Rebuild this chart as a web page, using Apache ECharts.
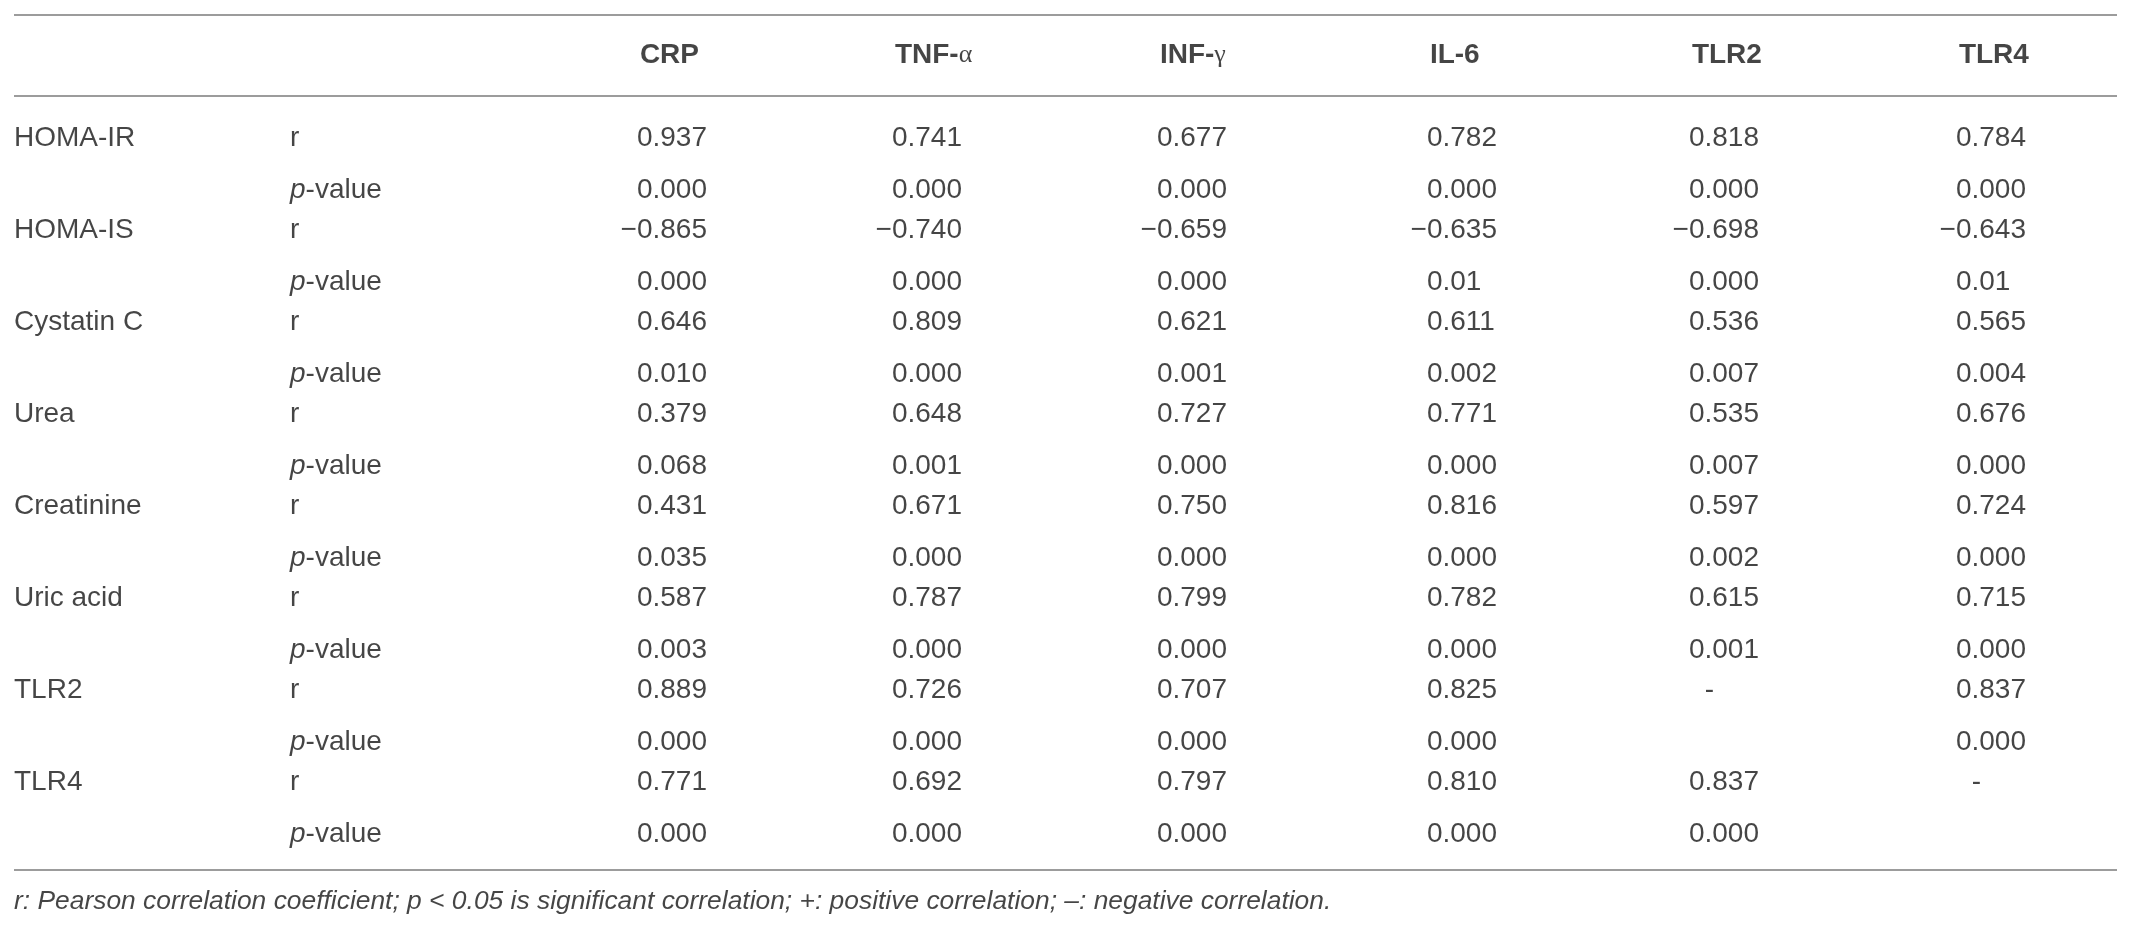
<!DOCTYPE html>
<html>
<head>
<meta charset="utf-8">
<script src="https://cdn.jsdelivr.net/npm/echarts@6/dist/echarts.min.js"></script>
<style>
html,body{margin:0;padding:0;background:#fff;}
#chart{width:2134px;height:928px;}
</style>
</head>
<body>
<div id="chart"></div>
<script>
// ---- data ----
const columns = ['CRP', 'TNF-α', 'INF-γ', 'IL-6', 'TLR2', 'TLR4'];
const variables = ['HOMA-IR', 'HOMA-IS', 'Cystatin C', 'Urea', 'Creatinine', 'Uric acid', 'TLR2', 'TLR4'];
const statLabels = ['r', 'p-value'];

const crpR  = ['0.937', '−0.865', '0.646', '0.379', '0.431', '0.587', '0.889', '0.771'];
const crpP  = ['0.000', '0.000', '0.010', '0.068', '0.035', '0.003', '0.000', '0.000'];
const tnfR  = ['0.741', '−0.740', '0.809', '0.648', '0.671', '0.787', '0.726', '0.692'];
const tnfP  = ['0.000', '0.000', '0.000', '0.001', '0.000', '0.000', '0.000', '0.000'];
const infR  = ['0.677', '−0.659', '0.621', '0.727', '0.750', '0.799', '0.707', '0.797'];
const infP  = ['0.000', '0.000', '0.001', '0.000', '0.000', '0.000', '0.000', '0.000'];
const il6R  = ['0.782', '−0.635', '0.611', '0.771', '0.816', '0.782', '0.825', '0.810'];
const il6P  = ['0.000', '0.01', '0.002', '0.000', '0.000', '0.000', '0.000', '0.000'];
const tlr2R = ['0.818', '−0.698', '0.536', '0.535', '0.597', '0.615', '-', '0.837'];
const tlr2P = ['0.000', '0.000', '0.007', '0.007', '0.002', '0.001', '', '0.000'];
const tlr4R = ['0.784', '−0.643', '0.565', '0.676', '0.724', '0.715', '0.837', '-'];
const tlr4P = ['0.000', '0.01', '0.004', '0.000', '0.000', '0.000', '0.000', ''];

const footnote = 'r: Pearson correlation coefficient; p < 0.05 is significant correlation; +: positive correlation; –: negative correlation.';

const rValues = [crpR, tnfR, infR, il6R, tlr2R, tlr4R];
const pValues = [crpP, tnfP, infP, il6P, tlr2P, tlr4P];

// ---- layout ----
const W = 2134, H = 928;
const FONT = "'Liberation Sans', Arial, Helvetica, sans-serif";
const FS = 28;
const TEXT = '#161616';
const RULE = '#9c9c9c';
const ruleLeft = 14, ruleRight = 2117;
const ruleTop = 15, ruleHead = 96, ruleBottom = 870;
const headerY = 55;
const firstRowY = 138, groupPitch = 92.1, pOffset = 52;
const labelX = 14, statX = 290;
const decimalX = [652.5, 907.5, 1172.5, 1442.5, 1704.5, 1971.5];
const digitW = 15.6;
const footY = 902, footFS = 26.4;

function rowY(g, s) { return firstRowY + g * groupPitch + (s ? pOffset : 0); }

// ---- build label items ----
const intItems = [], fracItems = [], dashItems = [], varItems = [], statItems = [], headItems = [];

variables.forEach((v, g) => {
  varItems.push({ name: v, value: [labelX, rowY(g, 0)] });
  statLabels.forEach((s, si) => statItems.push({ name: s, value: [statX, rowY(g, si)] }));
  [rValues, pValues].forEach((set, si) => {
    set.forEach((col, c) => {
      const s = col[g];
      if (!s) return;
      const y = rowY(g, si);
      if (s === '-') { dashItems.push({ name: s, value: [decimalX[c] + 5, y] }); return; }
      const k = s.indexOf('.');
      intItems.push({ name: s.slice(0, k), value: [decimalX[c], y] });
      fracItems.push({ name: s.slice(k), value: [decimalX[c], y] });
    });
  });
});
columns.forEach((h, c) => headItems.push({ name: h, value: [decimalX[c] - digitW + 3, headerY] }));

function textSeries(data, align, extra) {
  return {
    type: 'scatter', symbolSize: 0, silent: true, data: data,
    label: Object.assign({
      show: true, position: 'inside', align: align, verticalAlign: 'middle',
      fontFamily: FONT, fontSize: FS, color: TEXT,
      formatter: p => p.name
    }, extra || {})
  };
}

const statRich = {
  i: { fontFamily: FONT, fontSize: FS, color: TEXT, fontStyle: 'italic' },
  n: { fontFamily: FONT, fontSize: FS, color: TEXT }
};
const headRich = {
  b: { fontFamily: FONT, fontSize: FS, color: TEXT, fontWeight: 'bold' },
  g: { fontFamily: "'Liberation Serif', 'DejaVu Serif', serif", fontSize: FS - 2, color: TEXT, fontWeight: 'normal' }
};

const rules = [ruleTop, ruleHead, ruleBottom].map(y => [
  { coord: [ruleLeft, y] }, { coord: [ruleRight, y] }
]);

const option = {
  animation: false,
  backgroundColor: '#ffffff',
  grid: { left: 0, right: 0, top: 0, bottom: 0 },
  xAxis: { type: 'value', min: 0, max: W, show: false },
  yAxis: { type: 'value', min: 0, max: H, inverse: true, show: false },
  series: [
    textSeries(varItems, 'left'),
    textSeries(statItems, 'left', {
      formatter: p => p.name === 'p-value' ? '{i|p}{n|-value}' : '{n|r}',
      rich: statRich
    }),
    textSeries(intItems, 'right'),
    textSeries(fracItems, 'left'),
    textSeries(dashItems, 'center'),
    textSeries(headItems, 'left', {
      formatter: p => {
        const m = p.name.match(/^(.*-)([αγ])$/);
        return m ? '{b|' + m[1] + '}{g|' + m[2] + '}' : '{b|' + p.name + '}';
      },
      rich: headRich
    }),
    textSeries([{ name: footnote, value: [labelX, footY] }], 'left', { fontStyle: 'italic', fontSize: footFS }),
    {
      type: 'scatter', symbolSize: 0, silent: true, data: [],
      markLine: {
        silent: true, symbol: ['none', 'none'],
        label: { show: false },
        lineStyle: { color: RULE, width: 2, type: 'solid' },
        emphasis: { disabled: true },
        data: rules
      }
    }
  ]
};

const chart = echarts.init(document.getElementById('chart'), null, { renderer: 'canvas' });
chart.setOption(option);
</script>
</body>
</html>
